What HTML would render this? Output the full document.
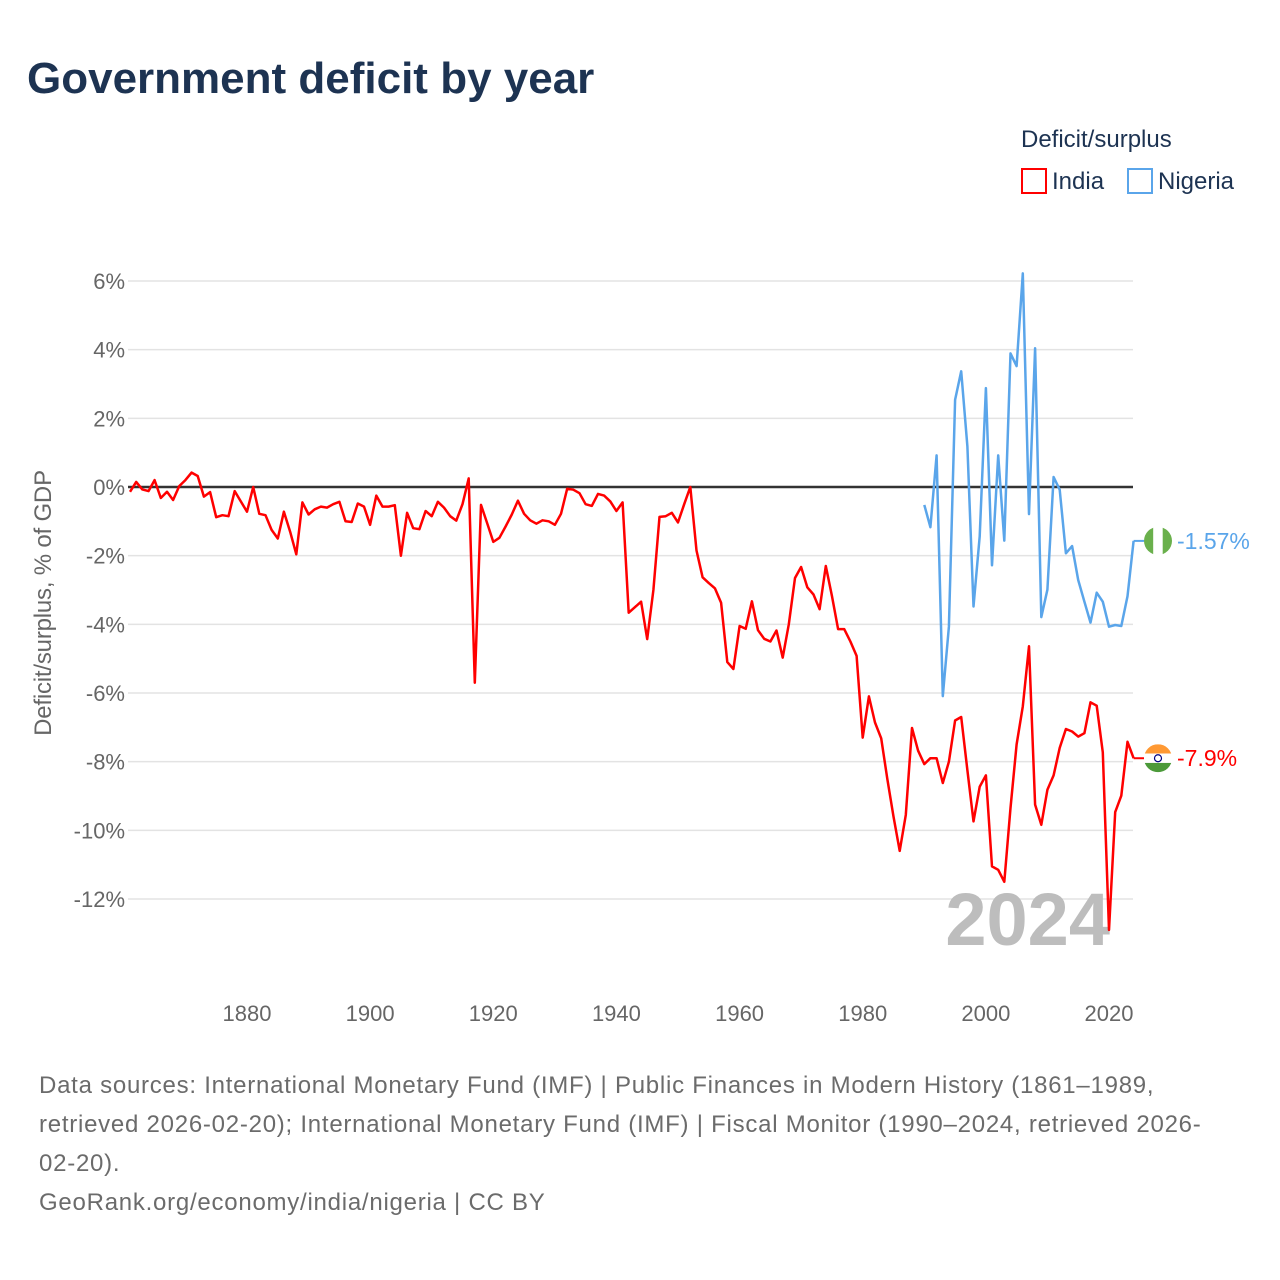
<!DOCTYPE html>
<html><head><meta charset="utf-8">
<style>
body{margin:0;background:#fff;font-family:"Liberation Sans",sans-serif;}
#wrap{position:relative;width:1280px;height:1280px;overflow:hidden;}
</style></head>
<body>
<div id="wrap">
<svg id="chart" width="1280" height="1280" xmlns="http://www.w3.org/2000/svg">
<text x="27" y="93" font-size="44" font-weight="bold" fill="#1d3352" font-family="Liberation Sans, sans-serif">Government deficit by year</text>
<text x="1021" y="147" font-size="24" fill="#1d3352">Deficit/surplus</text>
<g>
<rect x="1022" y="169" width="24" height="24" fill="none" stroke="#ff0000" stroke-width="2"/>
<text x="1052" y="189" font-size="24" fill="#1d3352">India</text></g>
<g>
<rect x="1128" y="169" width="24" height="24" fill="none" stroke="#5aa5ea" stroke-width="2"/>
<text x="1158" y="189" font-size="24" fill="#1d3352">Nigeria</text></g>
<g id="grid"></g><g id="yticks"></g><g id="xticks"></g>
<text transform="translate(51,603) rotate(-90)" text-anchor="middle" font-size="24" fill="#666" letter-spacing="-0.2">Deficit/surplus, % of GDP</text>
<text x="1110" y="945" text-anchor="end" font-size="74" font-weight="bold" fill="#bdbdbd">2024</text>
<g id="series"></g>
<g font-size="24" fill="#6b6b6b" letter-spacing="0.75">
<text x="39" y="1093">Data sources: International Monetary Fund (IMF) | Public Finances in Modern History (1861–1989,</text>
<text x="39" y="1132">retrieved 2026-02-20); International Monetary Fund (IMF) | Fiscal Monitor (1990–2024, retrieved 2026-</text>
<text x="39" y="1171">02-20).</text>
<text x="39" y="1210">GeoRank.org/economy/india/nigeria | CC BY</text>
</g>
</svg>
</div>
<script>
const indiaStart = 1861;
const indiaValues = [-0.14,0.15,-0.07,-0.12,0.2,-0.32,-0.14,-0.38,0.03,0.2,0.42,0.32,-0.28,-0.15,-0.88,-0.82,-0.85,-0.12,-0.42,-0.72,0,-0.78,-0.82,-1.25,-1.5,-0.72,-1.3,-1.96,-0.45,-0.8,-0.65,-0.57,-0.6,-0.5,-0.43,-1.0,-1.02,-0.48,-0.57,-1.1,-0.25,-0.57,-0.57,-0.53,-2.0,-0.75,-1.2,-1.23,-0.7,-0.85,-0.43,-0.6,-0.85,-0.98,-0.5,0.25,-5.7,-0.52,-1.05,-1.6,-1.48,-1.15,-0.8,-0.4,-0.78,-0.97,-1.07,-0.97,-1.0,-1.1,-0.78,-0.05,-0.08,-0.18,-0.5,-0.55,-0.2,-0.25,-0.42,-0.7,-0.45,-3.66,-3.5,-3.34,-4.43,-3.0,-0.87,-0.85,-0.75,-1.03,-0.5,0,-1.85,-2.63,-2.8,-2.95,-3.37,-5.1,-5.3,-4.05,-4.13,-3.33,-4.17,-4.42,-4.5,-4.18,-4.97,-4.0,-2.65,-2.33,-2.92,-3.13,-3.56,-2.3,-3.17,-4.14,-4.14,-4.5,-4.92,-7.3,-6.1,-6.86,-7.32,-8.5,-9.6,-10.6,-9.55,-7.02,-7.68,-8.07,-7.9,-7.9,-8.62,-8.0,-6.8,-6.7,-8.25,-9.74,-8.73,-8.4,-11.05,-11.15,-11.5,-9.35,-7.5,-6.39,-4.64,-9.25,-9.84,-8.82,-8.4,-7.6,-7.05,-7.12,-7.27,-7.17,-6.27,-6.37,-7.73,-12.9,-9.47,-8.99,-7.42,-7.9];
const nigeriaStart = 1990;
const nigeriaValues = [-0.52,-1.17,0.92,-6.09,-4.07,2.54,3.37,1.18,-3.48,-1.44,2.88,-2.28,0.92,-1.56,3.89,3.52,6.22,-0.79,4.04,-3.79,-2.99,0.29,-0.08,-1.93,-1.72,-2.71,-3.34,-3.95,-3.08,-3.34,-4.07,-4.02,-4.05,-3.18,-1.57];
const yTicks = [6,4,2,0,-2,-4,-6,-8,-10,-12];
const xTicks = [1880,1900,1920,1940,1960,1980,2000,2020];
const endLabels = ["-7.9%","-1.57%"];

const NS="http://www.w3.org/2000/svg";
const X0=128,X1=1133;
function xs(yr){return 247+(yr-1880)*(1109-247)/140;}
function ys(v){return 487-v*(487-281)/6;}
function mk(tag,attrs,parent){const e=document.createElementNS(NS,tag);for(const k in attrs)e.setAttribute(k,attrs[k]);parent.appendChild(e);return e;}
const grid=document.getElementById('grid'),yt=document.getElementById('yticks'),xt=document.getElementById('xticks'),ser=document.getElementById('series');
yTicks.forEach(v=>{
 if(v!==0){const l=mk('line',{x1:X0,x2:X1,y1:ys(v),y2:ys(v),stroke:'#e3e3e3','stroke-width':1.5},grid);
 
 }
 const t=mk('text',{x:125,y:ys(v)+8,'text-anchor':'end','font-size':22,fill:'#666'},yt);
 t.textContent=v+'%';
 
 
});
xTicks.forEach(yr=>{
 const t=mk('text',{x:xs(yr),y:1021,'text-anchor':'middle','font-size':22,fill:'#666'},xt);
 t.textContent=yr;
 
 
});
const zl=mk('line',{x1:X0,x2:X1,y1:ys(0),y2:ys(0),stroke:'#333','stroke-width':2.5},grid);


function drawLine(start,vals,color,name){
 const pts=vals.map((v,i)=>xs(start+i).toFixed(1)+','+ys(v).toFixed(1)).join(' ');
 const p=mk('polyline',{points:pts,fill:'none',stroke:color,'stroke-width':2.5,'stroke-linejoin':'round'},ser);
 
 
}
drawLine(indiaStart,indiaValues,'#ff0000','india-line');
drawLine(nigeriaStart,nigeriaValues,'#5aa5ea','nigeria-line');
function endMark(vals,start,color,label,flag,name){
 const last=vals[vals.length-1],yr=start+vals.length-1;
 const y=ys(last),x1=xs(yr);
 mk('line',{x1:x1,x2:1144,y1:y,y2:y,stroke:color,'stroke-width':2},ser);
 const g=mk('g',{},ser);
 
 
 const cx=1158;
 if(flag==='in'){
  mk('clipPath',{id:'cin'},g);
  mk('circle',{cx:cx,cy:y,r:14},g.lastChild);
  const gg=mk('g',{'clip-path':'url(#cin)'},g);
  mk('rect',{x:cx-14,y:y-14,width:28,height:9.3,fill:'#ff9933'},gg);
  mk('rect',{x:cx-14,y:y-4.7,width:28,height:9.4,fill:'#fff'},gg);
  mk('rect',{x:cx-14,y:y+4.7,width:28,height:9.3,fill:'#4c9a3a'},gg);
  mk('circle',{cx:cx,cy:y,r:3.5,fill:'none',stroke:'#000080','stroke-width':1.2},gg);
 }else{
  mk('clipPath',{id:'cng'},g);
  mk('circle',{cx:cx,cy:y,r:14},g.lastChild);
  const gg=mk('g',{'clip-path':'url(#cng)'},g);
  mk('rect',{x:cx-14,y:y-14,width:9.3,height:28,fill:'#6ab04c'},gg);
  mk('rect',{x:cx-4.7,y:y-14,width:9.4,height:28,fill:'#fff'},gg);
  mk('rect',{x:cx+4.7,y:y-14,width:9.3,height:28,fill:'#6ab04c'},gg);
 }
 const t=mk('text',{x:1177,y:y+8,'font-size':23,fill:color},ser);
 t.textContent=label;
 
 
}
endMark(indiaValues,indiaStart,'#ff0000',endLabels[0],'in','india');
endMark(nigeriaValues,nigeriaStart,'#5aa5ea',endLabels[1],'ng','nigeria');
</script>
</body></html>
